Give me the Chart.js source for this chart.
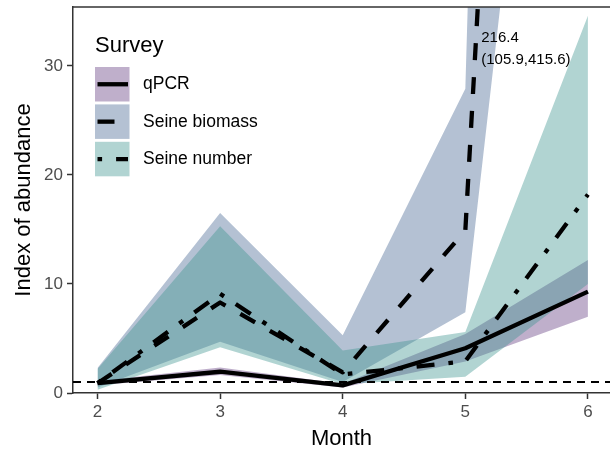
<!DOCTYPE html>
<html>
<head>
<meta charset="utf-8">
<script src="https://cdn.jsdelivr.net/npm/chart.js@4"></script>
<style>
    body { margin: 0; background: #fff; }
    canvas { display: block; }
</style>
</head>
<body>
<canvas id="abundanceChart" width="610" height="458"></canvas>
<script>
// Survey data (index of abundance by month)
const months = [2, 3, 4, 5, 6];
const seriesNames = ["qPCR", "Seine biomass", "Seine number"];

const qpcr = [0.9, 1.95, 0.7, 4.1, 9.3];
const qpcrLow = [0.7, 1.65, 0.5, 2.9, 7.0];
const qpcrHigh = [1.1, 2.35, 0.85, 5.4, 12.2];

const biomass = [0.9, 8.3, 1.9, 14.9, 216.4];
const biomassLow = [0.5, 4.7, 1.0, 7.4, 105.9];
const biomassHigh = [2.3, 16.5, 5.3, 27.9, 415.6];

const number = [0.9, 9.1, 1.7, 2.9, 18.2];
const numberLow = [0.3, 4.2, 0.8, 1.5, 10.0];
const numberHigh = [2.2, 15.3, 3.9, 5.6, 34.6];

const yTicks = [0, 10, 20, 30];
const referenceLevel = 1;

// Axis limits and label position for the off-scale value
const xMin = 1.8, xMax = 6.18;
const yMin = 0, yMax = 35.4;
const annotX = 5.13, annotY = 32.6;

const fillColors = ["rgba(95, 55, 125, 0.4)", "rgba(67, 100, 145, 0.4)", "rgba(60, 147, 142, 0.4)"];
const dashes = [[], [17, 17], [4.6, 14, 18, 14]];

Chart.defaults.font.family = "'Liberation Sans', Arial, sans-serif";

function pts(values) {
    return months.map((m, i) => ({ x: m, y: values[i] }));
}

function ribbon(high, low, color) {
    return [
        { data: pts(high), fill: "+1", backgroundColor: color, borderWidth: 0, pointRadius: 0 },
        { data: pts(low), fill: false, borderWidth: 0, pointRadius: 0 }
    ];
}

function line(values, dash) {
    return {
        data: pts(values), fill: false, borderColor: "#000", borderWidth: 4.3,
        borderDash: dash, borderCapStyle: "butt", borderJoinStyle: "round",
        pointRadius: 0, tension: 0
    };
}

// Top border of the panel
const panelBorder = {
    id: "panelBorder",
    afterDraw(chart) {
        let a = chart.chartArea, ctx = chart.ctx;
        ctx.save();
        ctx.strokeStyle = "#333";
        ctx.lineWidth = 1.5;
        ctx.beginPath();
        ctx.moveTo(a.left, a.top);
        ctx.lineTo(a.right, a.top);
        ctx.stroke();
        ctx.restore();
    }
};

// Label for the value that runs off the top
const offScaleLabel = {
    id: "offScaleLabel",
    afterDatasetsDraw(chart) {
        let ctx = chart.ctx;
        let x = chart.scales.x.getPixelForValue(annotX);
        let y = chart.scales.y.getPixelForValue(annotY);
        ctx.save();
        ctx.fillStyle = "#000";
        ctx.font = "15px 'Liberation Sans', Arial, sans-serif";
        ctx.textAlign = "left";
        ctx.textBaseline = "middle";
        ctx.fillText(biomass[4].toFixed(1), x, y);
        ctx.fillText("(" + biomassLow[4].toFixed(1) + "," + biomassHigh[4].toFixed(1) + ")", x, y + 22);
        ctx.restore();
    }
};

// ggplot-style legend: filled key with line sample
const surveyLegend = {
    id: "surveyLegend",
    afterDraw(chart) {
        let ctx = chart.ctx;
        ctx.save();
        ctx.fillStyle = "#000";
        ctx.font = "22px 'Liberation Sans', Arial, sans-serif";
        ctx.textBaseline = "alphabetic";
        ctx.fillText("Survey", 95, 52);

        seriesNames.forEach((name, i) => {
            let top = 67 + i * 37.4;
            ctx.fillStyle = "#fff";
            ctx.fillRect(95, top, 34.5, 34.5);
            ctx.fillStyle = fillColors[i];
            ctx.fillRect(95, top, 34.5, 34.5);

            ctx.strokeStyle = "#000";
            ctx.lineWidth = 4.3;
            ctx.lineCap = "butt";
            ctx.setLineDash(dashes[i]);
            ctx.beginPath();
            ctx.moveTo(97.5, top + 17.25);
            ctx.lineTo(128, top + 17.25);
            ctx.stroke();
            ctx.setLineDash([]);

            ctx.fillStyle = "#000";
            ctx.font = "17.5px 'Liberation Sans', Arial, sans-serif";
            ctx.textBaseline = "middle";
            ctx.fillText(name, 143, top + 17.5);
        });
        ctx.restore();
    }
};

let ctx = document.getElementById("abundanceChart").getContext("2d");

new Chart(ctx, {
    type: "line",
    data: {
        datasets: [
            ...ribbon(numberHigh, numberLow, fillColors[2]),
            ...ribbon(biomassHigh, biomassLow, fillColors[1]),
            ...ribbon(qpcrHigh, qpcrLow, fillColors[0]),
            {
                data: [{ x: xMin, y: referenceLevel }, { x: xMax, y: referenceLevel }],
                fill: false, borderColor: "#000", borderWidth: 2, borderDash: [8, 6],
                borderCapStyle: "butt", pointRadius: 0
            },
            line(qpcr, dashes[0]),
            line(biomass, dashes[1]),
            line(number, dashes[2])
        ]
    },
    options: {
        responsive: false,
        animation: false,
        devicePixelRatio: 1,
        layout: { padding: { top: 7, left: 0, right: 0, bottom: 0 } },
        plugins: {
            legend: { display: false },
            tooltip: { enabled: false },
            filler: { drawTime: "beforeDatasetsDraw" }
        },
        scales: {
            x: {
                type: "linear",
                min: xMin,
                max: xMax,
                afterBuildTicks: axis => { axis.ticks = months.map(v => ({ value: v })); },
                afterFit: axis => { axis.height = 65; axis.paddingLeft = 0; axis.paddingRight = 0; },
                grid: { drawOnChartArea: false, tickLength: 6, tickColor: "#333", tickWidth: 1.5 },
                border: { color: "#333", width: 1.5 },
                ticks: { color: "#4d4d4d", font: { size: 17 }, padding: 3, maxRotation: 0, autoSkip: false },
                title: { display: true, text: "Month", color: "#000", font: { size: 22 }, padding: { top: 0, bottom: 6 } }
            },
            y: {
                min: yMin,
                max: yMax,
                afterBuildTicks: axis => { axis.ticks = yTicks.map(v => ({ value: v })); },
                afterFit: axis => { axis.width = 73; axis.paddingTop = 0; axis.paddingBottom = 0; },
                grid: { drawOnChartArea: false, tickLength: 6, tickColor: "#333", tickWidth: 1.5 },
                border: { color: "#333", width: 1.5 },
                ticks: { color: "#4d4d4d", font: { size: 17 }, padding: 4 },
                title: { display: true, text: "Index of abundance", color: "#000", font: { size: 22 }, padding: { top: 11, bottom: 0 } }
            }
        }
    },
    plugins: [panelBorder, offScaleLabel, surveyLegend]
});
</script>
</body>
</html>
